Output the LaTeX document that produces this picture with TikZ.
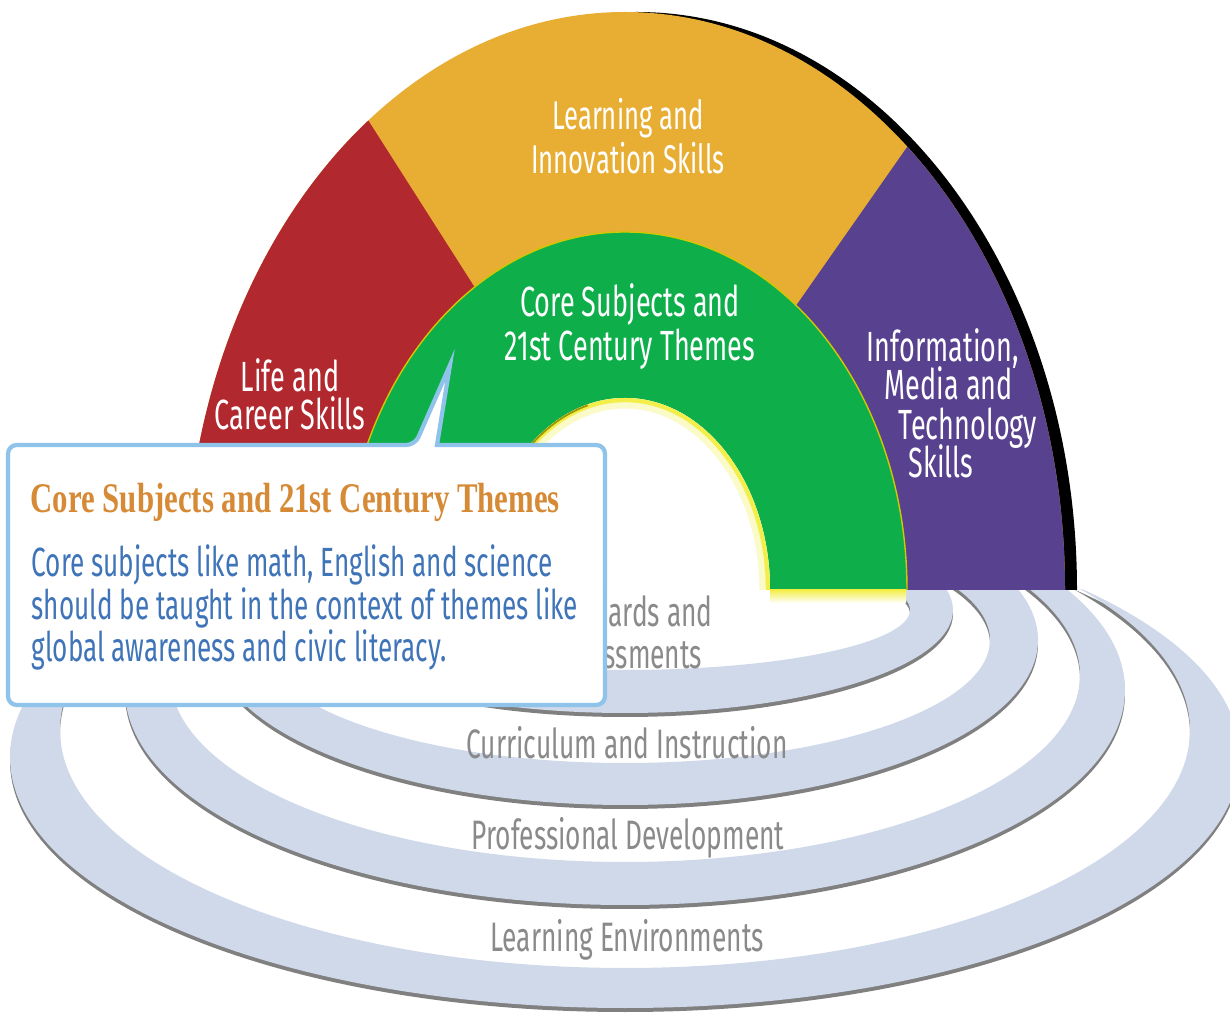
\documentclass[tikz,border=0pt]{standalone}
\usepackage{fontspec}
\setmainfont{Fira Sans}[FakeStretch=0.64]
\newfontfamily\serifhead{Liberation Serif}[FakeStretch=0.73]
\usetikzlibrary{calc}
\definecolor{lifered}{HTML}{B2282F}
\definecolor{learngold}{HTML}{E8AD33}
\definecolor{coregreen}{HTML}{0EAE4B}
\definecolor{infopurple}{HTML}{58418F}
\definecolor{ringblue}{HTML}{CFD9EA}
\definecolor{ringshade}{HTML}{808080}
\definecolor{labelgrey}{HTML}{8A8A8A}
\definecolor{boxline}{HTML}{8FC3EA}
\definecolor{boxtext}{HTML}{3F74B8}
\definecolor{titleorange}{HTML}{D68A36}
\definecolor{glowyellow}{HTML}{F3EE4A}
\def\dome[#1](#2)(#3:#4){\fill[#1] ($(#2)+(-#3,0)$) arc[start angle=180, end angle=360, x radius=#3, y radius=#4] -- cycle;}
\def\ringband(#1:#2:#3)(#4:#5:#6){%
  \fill[ringshade, even odd rule] (625,#1+4) ellipse [x radius=#2, y radius=#3] (625,#4+4) ellipse [x radius=#5, y radius=#6];
  \fill[ringblue, even odd rule] (625,#1) ellipse [x radius=#2, y radius=#3] (625,#4) ellipse [x radius=#5, y radius=#6];}

\begin{document}
\begin{tikzpicture}[x=0.01cm, y=-0.01cm,
	archtext/.style={text=white, align=center, inner sep=0pt, font=\fontsize{12}{10.8}\selectfont},
	ringtext/.style={text=labelgrey, align=center, inner sep=0pt, font=\fontsize{11.7}{12}\selectfont},
	boxtitle/.style={text=titleorange, inner sep=0pt, font=\serifhead\bfseries\fontsize{12}{12}\selectfont},
	boxbody/.style={text=boxtext, align=left, inner sep=0pt, font=\fontsize{11.6}{12.1}\selectfont}]
		\useasboundingbox (0,0) rectangle (1230,1013);
		
		%%%%% RINGS %%%%%
		\begin{scope}
			\clip (0,590) rectangle (1230,1013);
			\ringband(757:615:251)(730:565:238)
			\ringband(690:500:215)(675:455:187)
			\ringband(640:413:165)(640:365:123)
			\ringband(610:328:103)(610:285:60)
		\end{scope}
		
		\node[ringtext] (standards) at (626,632) {Standards and\\Assessments};
		\node[ringtext] (curriculum) at (627,743) {Curriculum and Instruction};
		\node[ringtext] (profdev) at (628,838) {Professional Development};
		\node[ringtext] (environments) at (627,940) {Learning Environments};
		
		%%%%% ARCH %%%%%
		\dome[black](637,590)(440:578)
		\dome[learngold](625,590)(440:578)
		\begin{scope}
			\clip (185,590) arc[start angle=180, end angle=360, x radius=440, y radius=578] -- cycle;
			\fill[lifered] (0,0) -- (291.5,0) -- (674,600) -- (0,600) -- cycle;
			\fill[infopurple] (1010,0) -- (1300,0) -- (1300,600) -- (590,600) -- cycle;
		\end{scope}
		\dome[coregreen](625,590)(282:358)
		\draw[line width=0.4pt, color=yellow!60!olive] (343,590) arc[start angle=180, end angle=360, x radius=282, y radius=358];
		\dome[white](625,590)(145:192)
		
		% glow round the hole
		\begin{scope}
			\clip (480,590) arc[start angle=180, end angle=360, x radius=145, y radius=192] -- cycle;
			\draw[line width=6pt, color=glowyellow!30] (625,590) ellipse [x radius=145, y radius=192];
			\draw[line width=2.4pt, color=glowyellow] (625,590) ellipse [x radius=145, y radius=192];
			\draw[line width=1pt, color=olive!85!yellow] (625,590) ++(200:145 and 192) arc[start angle=200, end angle=255, x radius=145, y radius=192];
		\end{scope}
		\shade[top color=glowyellow, bottom color=white] (770,590) rectangle (906,603);
		
		\node[archtext, font=\fontsize{11.4}{10.8}\selectfont] (learning) at (628,136) {Learning and\\Innovation Skills};
		\node[archtext] (core) at (630,327) {Core Subjects and\\21st Century Themes};
		\node[archtext] (life) at (290,394) {Life and\\Career Skills};
		\node[archtext, anchor=base west] (info1) at (866,362) {Information,};
		\node[archtext, anchor=base west] (info2) at (884,400) {Media and};
		\node[archtext, anchor=base west] (info3) at (898,440) {Technology};
		\node[archtext, anchor=base west] (info4) at (908,478) {Skills};
		
		%%%%% CALLOUT %%%%%
		\draw[boxline, line width=1.2pt, fill=white, rounded corners=2.5pt] (8,445) -- (415,445) [sharp corners] -- (450,365) -- (437,445) [rounded corners=2.5pt] -- (605,445) -- (605,705) -- (8,705) -- cycle;
		\node[boxtitle, anchor=base west] (title) at (30,513) {Core Subjects and 21st Century Themes};
		\node[boxbody, anchor=north west] (body) at (31,544) {Core subjects like math, English and science\\should be taught in the context of themes like\\global awareness and civic literacy.};
		
	\end{tikzpicture}
\end{document}
